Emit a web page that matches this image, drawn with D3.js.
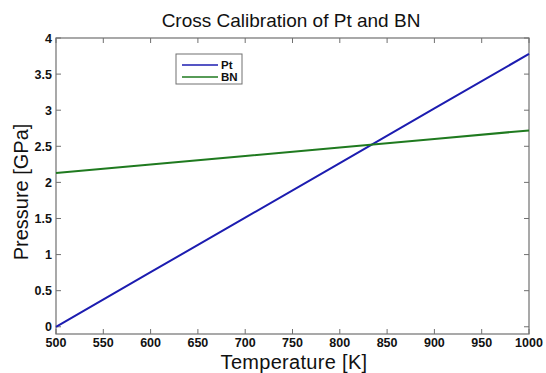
<!DOCTYPE html>
<html><head><meta charset="utf-8">
<script src="https://cdn.jsdelivr.net/npm/d3@7"></script>
<style>body{margin:0;background:#fff}svg{display:block}text{font-family:"Liberation Sans",Arial,sans-serif}</style>
</head><body>
<svg id="c" width="546" height="373"></svg>
<script>
const temperature = [500, 600, 700, 800, 900, 1000];
const ptPressure = [0.0, 0.756, 1.512, 2.268, 3.024, 3.78];
const bnPressure = [2.13, 2.248, 2.366, 2.484, 2.602, 2.72];
const xTicks = [500,550,600,650,700,750,800,850,900,950,1000];
const yTicks = [0,0.5,1,1.5,2,2.5,3,3.5,4];
const seriesNames = ["Pt","BN"];
const colors = ["#1c1cb0","#1f7a1f"];

const svg = d3.select("#c");
const L=56,R=529,T=38,B=334;
const x = d3.scaleLinear().domain([500,1000]).range([L,R]);
const y = d3.scaleLinear().domain([-0.1,4]).range([B,T]);

svg.append("rect").attr("x",L).attr("y",T).attr("width",R-L).attr("height",B-T)
  .attr("fill","none").attr("stroke","#707070").attr("stroke-width",1.2);

const tl=5;
const g = svg.append("g");
xTicks.forEach(t=>{
  g.append("line").attr("x1",x(t)).attr("x2",x(t)).attr("y1",B).attr("y2",B-tl).attr("stroke","#707070");
  g.append("line").attr("x1",x(t)).attr("x2",x(t)).attr("y1",T).attr("y2",T+tl).attr("stroke","#707070");
  g.append("text").attr("x",x(t)).attr("y",347).attr("text-anchor","middle")
   .attr("font-size",12.5).attr("font-weight","bold").attr("fill","#111").text(t);
});
yTicks.forEach(t=>{
  g.append("line").attr("x1",L).attr("x2",L+tl).attr("y1",y(t)).attr("y2",y(t)).attr("stroke","#707070");
  g.append("line").attr("x1",R).attr("x2",R-tl).attr("y1",y(t)).attr("y2",y(t)).attr("stroke","#707070");
  g.append("text").attr("x",L-4).attr("y",y(t)+4.5).attr("text-anchor","end")
   .attr("font-size",12.5).attr("font-weight","bold").attr("fill","#111").text(t);
});

const line = d3.line().x(d=>x(d[0])).y(d=>y(d[1]));
[ptPressure,bnPressure].forEach((vals,i)=>{
  svg.append("path").datum(temperature.map((t,j)=>[t,vals[j]]))
    .attr("d",line).attr("fill","none").attr("stroke",colors[i]).attr("stroke-width",2);
});

svg.append("text").attr("x",291).attr("y",27).attr("text-anchor","middle").attr("font-size",19).attr("fill","#111").text("Cross Calibration of Pt and BN");
svg.append("text").attr("x",294).attr("y",368.5).attr("text-anchor","middle").attr("font-size",20).attr("letter-spacing",0.3).attr("fill","#111").text("Temperature [K]");
svg.append("text").attr("transform","translate(28,192) rotate(-90)").attr("text-anchor","middle").attr("font-size",20).attr("fill","#111").text("Pressure [GPa]");

const lg = svg.append("g");
lg.append("rect").attr("x",176).attr("y",54).attr("width",66).attr("height",30).attr("fill","#fff").attr("stroke","#707070");
seriesNames.forEach((n,i)=>{
  const yy = 65 + i*12;
  lg.append("line").attr("x1",182).attr("x2",218).attr("y1",yy).attr("y2",yy).attr("stroke",colors[i]).attr("stroke-width",1.5);
  lg.append("text").attr("x",221).attr("y",yy+4).attr("font-size",11.5).attr("font-weight","bold").attr("fill","#111").text(n);
});
</script>
</body></html>
